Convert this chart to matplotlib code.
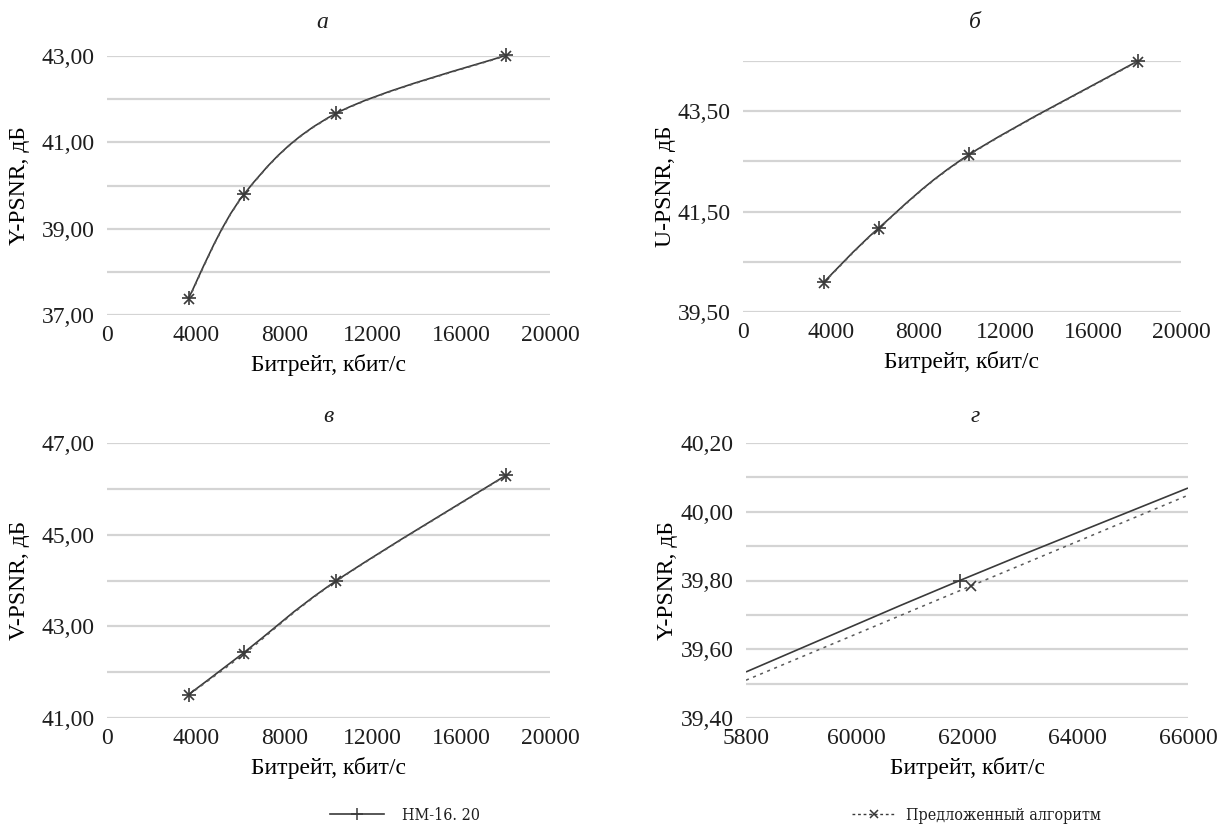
"""Y/U/V-PSNR vs bitrate for HM-16.20 and the proposed algorithm."""
import matplotlib
matplotlib.use("Agg")
import matplotlib.pyplot as plt
from matplotlib.font_manager import FontProperties
from matplotlib.lines import Line2D
from matplotlib.patches import PathPatch
from matplotlib.path import Path
from matplotlib.ticker import FuncFormatter

# bitrate, kbit/s
bitrate = [3680, 6190, 10340, 18030]

y_psnr_hm = [37.39, 39.80, 41.67, 43.02]
y_psnr_new = [37.37, 39.79, 41.66, 43.01]
u_psnr_hm = [40.09, 41.17, 42.64, 44.50]
u_psnr_new = [40.08, 41.16, 42.63, 44.49]
v_psnr_hm = [41.51, 42.43, 43.99, 46.30]
v_psnr_new = [41.50, 42.40, 43.98, 46.29]

# zoomed view (panel г)
zoom_rate_hm = [58000, 61870, 66000]
zoom_psnr_hm = [39.534, 39.800, 40.069]
zoom_rate_new = [58000, 62070, 66000]
zoom_psnr_new = [39.510, 39.784, 40.048]

series_names = ["HM-16. 20", "Предложенный алгоритм"]
panel_titles = ["а", "б", "в", "г"]
y_names = ["Y-PSNR, дБ", "U-PSNR, дБ", "V-PSNR, дБ", "Y-PSNR, дБ"]
x_name = "Битрейт, кбит/с"
zoom_xtick_labels = ["5800", "60000", "62000", "64000", "66000"]

LINE = "#3a3a3a"
GRID = "#d4d4d4"
TEXT = "#1e1e1e"

plt.rcParams["font.family"] = ["Liberation Serif", "DejaVu Serif"]
plt.rcParams["font.size"] = 17
plt.rcParams["text.color"] = TEXT


def smooth_path(x, y):
    """Excel-style smoothed line (Catmull-Rom as cubic Bezier)."""
    pts = list(zip(x, y))
    n = len(pts)
    verts = [pts[0]]
    codes = [Path.MOVETO]
    for i in range(n - 1):
        p0 = pts[i - 1] if i > 0 else pts[i]
        p1 = pts[i]
        p2 = pts[i + 1]
        p3 = pts[i + 2] if i + 2 < n else pts[i + 1]
        c1 = (p1[0] + (p2[0] - p0[0]) / 6, p1[1] + (p2[1] - p0[1]) / 6)
        c2 = (p2[0] - (p3[0] - p1[0]) / 6, p2[1] - (p3[1] - p1[1]) / 6)
        verts += [c1, c2, p2]
        codes += [Path.CURVE4] * 3
    return Path(verts, codes)


def comma(v, pos):
    return f"{v:.2f}".replace(".", ",")


def style_axes(ax, ylim, major, minor):
    ax.set_ylim(*ylim)
    ax.set_yticks(major)
    ax.set_yticks(minor, minor=True)
    ax.yaxis.set_major_formatter(FuncFormatter(comma))
    ax.grid(axis="y", which="both", color=GRID, linewidth=1.6)
    ax.set_axisbelow(True)
    for s in ax.spines.values():
        s.set_visible(False)
    ax.tick_params(which="both", length=0, labelsize=17, colors=TEXT)
    ax.tick_params(axis="y", pad=9)
    ax.tick_params(axis="x", pad=7)


def draw(ax, x1, y1, x2, y2, mark_idx=None):
    ax.add_patch(PathPatch(smooth_path(x1, y1), fill=False, color=LINE, lw=1.2))
    ax.add_patch(PathPatch(smooth_path(x2, y2), fill=False, color="#5a5a5a",
                           lw=1.1, linestyle=(0, (2, 3))))
    if mark_idx is None:
        mark_idx = range(len(x1))
    ax.plot([x1[i] for i in mark_idx], [y1[i] for i in mark_idx], "+",
            color=LINE, ms=10, mew=1.2, ls="none", clip_on=False)
    ax.plot([x2[i] for i in mark_idx], [y2[i] for i in mark_idx], "x",
            color=LINE, ms=7.5, mew=1.2, ls="none", clip_on=False)


W, H = 1229, 839
fig = plt.figure(figsize=(W / 100, H / 100), dpi=100)


def box(l, r, t, b):
    return [l / W, 1 - b / H, (r - l) / W, (b - t) / H]


ax_a = fig.add_axes(box(107, 550, 56, 315))
ax_b = fig.add_axes(box(743, 1181, 61, 312))
ax_c = fig.add_axes(box(107, 550, 443, 718))
ax_d = fig.add_axes(box(746, 1188, 443, 718))

draw(ax_a, bitrate, y_psnr_hm, bitrate, y_psnr_new)
style_axes(ax_a, (37, 43), [37, 39, 41, 43], [38, 40, 42])

draw(ax_b, bitrate, u_psnr_hm, bitrate, u_psnr_new)
style_axes(ax_b, (39.5, 44.5), [39.5, 41.5, 43.5], [40.5, 42.5, 44.5])

draw(ax_c, bitrate, v_psnr_hm, bitrate, v_psnr_new)
style_axes(ax_c, (41, 47), [41, 43, 45, 47], [42, 44, 46])

for ax in (ax_a, ax_b, ax_c):
    ax.set_xlim(0, 20000)
    ax.set_xticks(range(0, 20001, 4000))

draw(ax_d, zoom_rate_hm, zoom_psnr_hm, zoom_rate_new, zoom_psnr_new, [1])
style_axes(ax_d, (39.4, 40.2), [39.4, 39.6, 39.8, 40.0, 40.2],
           [39.5, 39.7, 39.9, 40.1])
ax_d.set_xlim(58000, 66000)
ax_d.set_xticks([58000, 60000, 62000, 64000, 66000], zoom_xtick_labels)

for ax, yname in zip((ax_a, ax_b, ax_c, ax_d), y_names):
    ax.set_ylabel(yname, fontsize=17)
    ax.set_xlabel(x_name, fontsize=17, labelpad=6)

for ax in (ax_a, ax_c):
    ax.yaxis.set_label_coords((30 - 107) / 443, 0.5)
for ax in (ax_b, ax_d):
    ax.yaxis.set_label_coords((676 - 743) / 438, 0.5)

title_pos = [(322, 22), (975, 22), (328, 417), (975, 417)]
for title, (tx, ty) in zip(panel_titles, title_pos):
    fig.text(tx / W, 1 - ty / H, title, style="italic", fontsize=17,
             ha="center", va="center")

# narrow serif for the legend, as in the source figure
leg_font = FontProperties(family="DejaVu Serif", stretch="condensed",
                          size=11.5)
h_hm = Line2D([], [], color=LINE, lw=1.2, marker="+", ms=9, mew=1.1)
h_new = Line2D([], [], color=LINE, lw=1.0, ls=(0, (2, 2)), marker="x",
               ms=6, mew=1.1)
fig.legend([h_hm], [series_names[0]], loc="center left",
           bbox_to_anchor=(330 / W, 1 - 815 / H), frameon=False,
           prop=leg_font, handlelength=3.4, handletextpad=1.1,
           borderpad=0, borderaxespad=0)
fig.legend([h_new], [series_names[1]], loc="center left",
           bbox_to_anchor=(852 / W, 1 - 815 / H), frameon=False,
           prop=leg_font, handlelength=2.7, handletextpad=0.7,
           borderpad=0, borderaxespad=0)

fig.savefig("out.png", dpi=100)
